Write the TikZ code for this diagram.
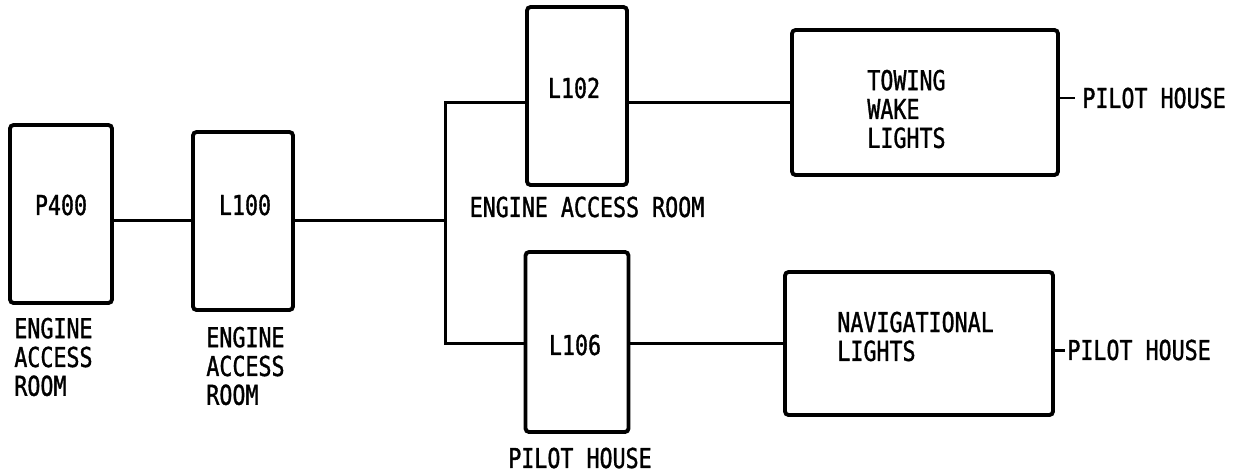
\documentclass[tikz,border=0pt]{standalone}
\usepackage{fontspec}
\newfontfamily\typefont[FakeStretch=0.79,FakeBold=1.2]{DejaVu Sans Mono}
\tikzset{
  unitbox/.style={draw, line width=2.2pt, rounded corners=2pt, inner sep=0pt},
  wire/.style={line width=1.7pt},
  tag/.style={font=\typefont\fontsize{15.6}{16.4}\selectfont, inner sep=0pt},
}
\begin{document}
\begin{tikzpicture}[x=0.02cm,y=-0.02cm]
\useasboundingbox (0,0) rectangle (1253,474);
% boxes
\node[unitbox, minimum width=2.04cm, minimum height=3.56cm] (p400) at (61,214) {};
\node[unitbox, minimum width=2.0cm, minimum height=3.56cm] (l100) at (243,221) {};
\node[unitbox, minimum width=2.0cm, minimum height=3.56cm] (l102) at (577,96) {};
\node[unitbox, minimum width=2.06cm, minimum height=3.6cm] (l106) at (577,342) {};
\node[unitbox, minimum width=5.32cm, minimum height=2.9cm] (towing) at (925,102.5) {};
\node[unitbox, minimum width=5.36cm, minimum height=2.86cm] (nav) at (919,343.5) {};
% texts in boxes
\node[tag] (p400txt) at (61,205) {P400};
\node[tag] (l100txt) at (245,205) {L100};
\node[tag] (l102txt) at (574,88) {L102};
\node[tag] (l106txt) at (575,345) {L106};
\node[tag, align=left, anchor=west] (towtxt) at (867,109) {TOWING\\WAKE\\LIGHTS};
\node[tag, align=left, anchor=west] (navtxt) at (837,336.5) {NAVIGATIONAL\\LIGHTS};
% locations
\node[tag, align=left, anchor=west] (p400loc) at (14,357) {ENGINE\\ACCESS\\ROOM};
\node[tag, align=left, anchor=west] (l100loc) at (206,366) {ENGINE\\ACCESS\\ROOM};
\node[tag] (l102loc) at (587,207) {ENGINE ACCESS ROOM};
\node[tag] (l106loc) at (580,458) {PILOT HOUSE};
\node[tag, anchor=west] (ph1) at (1082,98) {PILOT HOUSE};
\node[tag, anchor=west] (ph2) at (1067,350) {PILOT HOUSE};
% wiring
\coordinate (bus) at (445,220);
\draw[wire] (p400.east |- bus) -- (l100.west |- bus);
\draw[wire] (l100.east |- bus) -- (bus);
\draw[wire] (towing.west -| l102.west) -| (bus) |- (nav.west -| l106.west);
\draw[wire] (l102.east |- towing.west) -- (towing.west);
\draw[wire] (l106.east |- nav.west) -- (nav.west);
\draw[wire] (towing.east |- ph1) -- ([xshift=-0.14cm]ph1.west);
\draw[wire] (nav.east |- ph2) -- ([xshift=-0.05cm]ph2.west);
\end{tikzpicture}
\end{document}
